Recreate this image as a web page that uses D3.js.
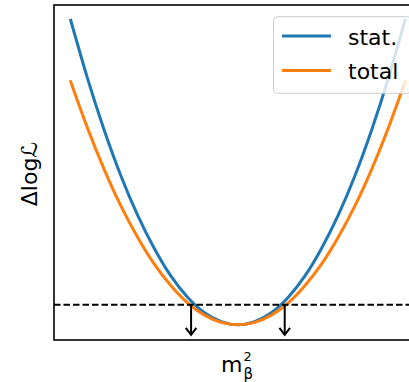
<!DOCTYPE html>
<html lang="en">
<head>
<meta charset="utf-8">
<title>Profile likelihood in m_beta^2</title>
<script src="https://d3js.org/d3.v7.min.js"></script>
<style>
    body {
        margin: 0;
        background: #fff;
        font-family: "DejaVu Sans", sans-serif;
    }
    svg { display: block; }
</style>
</head>
<body>
<svg id="chart" width="409" height="382"></svg>
<script>
// m_beta^2 grid, arbitrary units with the best fit at 0
const m2 = [-1.0, -0.9, -0.8, -0.7, -0.6, -0.5, -0.4, -0.3, -0.2, -0.1, 0.0,
             0.1, 0.2, 0.3, 0.4, 0.5, 0.6, 0.7, 0.8, 0.9, 1.0];
// delta log likelihood
const statLL = [7.58, 6.14, 4.85, 3.71, 2.73, 1.90, 1.21, 0.68, 0.30, 0.08, 0.0,
                0.08, 0.30, 0.68, 1.21, 1.90, 2.73, 3.71, 4.85, 6.14, 7.58];
const totalLL = [6.05, 4.90, 3.87, 2.96, 2.18, 1.51, 0.97, 0.54, 0.24, 0.06, 0.0,
                 0.06, 0.24, 0.54, 0.97, 1.51, 2.18, 2.96, 3.87, 4.90, 6.05];
const threshold = 0.5;
const limits = [-0.28, 0.28];
const arrowTip = -0.25;
const seriesNames = ["stat.", "total"];

const colors = ["#1f77b4", "#ff7f0e"];
const svg = d3.select("#chart");

const plotLeft = 54, plotTop = 5, plotBottom = 340;
const xMin = d3.min(m2), xMax = d3.max(m2);
const xPad = (xMax - xMin) * 0.05;
const yMax = d3.max(statLL.concat(totalLL));
const yPad = yMax * 0.05;

const x = d3.scaleLinear().domain([xMin - xPad, xMax + xPad]).range([plotLeft, 421.8]);
const y = d3.scaleLinear().domain([-yPad, yMax + yPad]).range([plotBottom, plotTop]);

const line = d3.line()
    .x(d => x(d[0]))
    .y(d => y(d[1]))
    .curve(d3.curveNatural);

const series = [statLL, totalLL];
series.forEach((vals, i) => {
    svg.append("path")
        .datum(m2.map((v, j) => [v, vals[j]]))
        .attr("d", line)
        .attr("fill", "none")
        .attr("stroke", colors[i])
        .attr("stroke-width", 3)
        .attr("stroke-linecap", "square");
});

// 1 sigma threshold
svg.append("line")
    .attr("x1", x.range()[0]).attr("x2", x.range()[1])
    .attr("y1", y(threshold)).attr("y2", y(threshold))
    .attr("stroke", "#000")
    .attr("stroke-width", 2)
    .attr("stroke-dasharray", "6.5,3");

// arrows at the interval edges
limits.forEach(l => {
    const xs = x(l), y0 = y(threshold), y1 = y(arrowTip);
    svg.append("line")
        .attr("x1", xs).attr("x2", xs)
        .attr("y1", y0).attr("y2", y1)
        .attr("stroke", "#000").attr("stroke-width", 2);
    svg.append("path")
        .attr("d", `M${xs - 5.3},${y1 - 7} L${xs},${y1} L${xs + 5.3},${y1 - 7}`)
        .attr("fill", "none")
        .attr("stroke", "#000")
        .attr("stroke-width", 2);
});

// frame
svg.append("rect")
    .attr("x", x.range()[0]).attr("y", plotTop)
    .attr("width", x.range()[1] - x.range()[0])
    .attr("height", plotBottom - plotTop)
    .attr("fill", "none")
    .attr("stroke", "#000")
    .attr("stroke-width", 1.6);

// axis labels
svg.append("text")
    .attr("transform", "translate(37,174) rotate(-90)")
    .attr("text-anchor", "middle")
    .attr("font-size", 22)
    .attr("fill", "#000")
    .text("Δlogℒ");

const xl = svg.append("g").attr("fill", "#000");
xl.append("text").attr("x", 221).attr("y", 372).attr("font-size", 22).text("m");
xl.append("text").attr("x", 243.5).attr("y", 361).attr("font-size", 13).text("2");
xl.append("text").attr("x", 243.5).attr("y", 379).attr("font-size", 15).text("β");

// legend
const lg = svg.append("g");
lg.append("rect")
    .attr("x", 273.5).attr("y", 16.7)
    .attr("width", 138).attr("height", 76.6)
    .attr("rx", 4)
    .attr("fill", "#fff").attr("fill-opacity", 0.8)
    .attr("stroke", "#cccccc").attr("stroke-width", 1);
seriesNames.forEach((name, i) => {
    const ly = 36 + i * 34.5;
    lg.append("line")
        .attr("x1", 282).attr("x2", 331)
        .attr("y1", ly).attr("y2", ly)
        .attr("stroke", colors[i]).attr("stroke-width", 3);
    lg.append("text")
        .attr("x", 348).attr("y", ly + 8.5)
        .attr("font-size", 22)
        .attr("fill", "#000")
        .text(name);
});
</script>
</body>
</html>
